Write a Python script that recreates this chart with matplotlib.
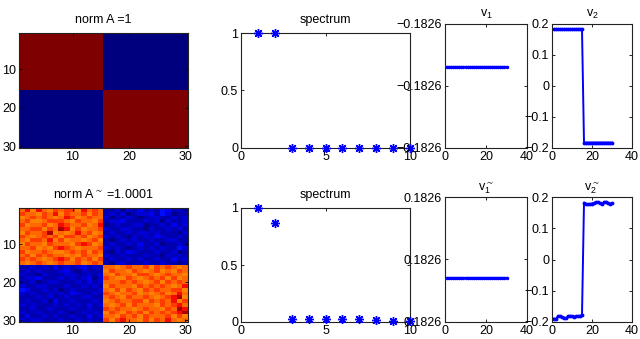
import numpy as np
import matplotlib
matplotlib.use("Agg")
import matplotlib.pyplot as plt

plt.rcParams['font.family'] = ['Liberation Sans', 'DejaVu Sans']
plt.rcParams['font.size'] = 9
plt.rcParams['mathtext.default'] = 'regular'

# ---------------- data ----------------
# ideal block matrix A (1 inside diagonal blocks, 0 elsewhere)
ideal_rows = ["1" * 15 + "0" * 15] * 15 + ["0" * 15 + "1" * 15] * 15

noisy_rows = [
    "685865767758676" + "112021312143121",
    "766576857667576" + "121201223142011",
    "567676568756766" + "201121012211212",
    "675567776576657" + "122311121202112",
    "756675687667568" + "012112201121312",
    "667757698575667" + "211221102112121",
    "576679565686756" + "121121221211102",
    "765676757767567" + "212102121321121",
    "657768575665675" + "101212112112211",
    "576657666578756" + "121121311201121",
    "667565787656667" + "212101212121142",
    "756676556767576" + "102132111211201",
    "675767665657665" + "211211121102121",
    "767656787576757" + "121121211211312",
    "656765676675676" + "102211121121101",
    "112121312123121" + "665676675767656",
    "121211123102111" + "576657656756576",
    "211021112211212" + "657665776567665",
    "122311121212302" + "765576567675756",
    "112012211121312" + "666767656757676",
    "211221112112121" + "576665767676568",
    "431121201211112" + "657576576766775",
    "212112121321121" + "765667565675686",
    "111212112112211" + "676576676567895",
    "121120311211121" + "567667757676857",
    "212111212121312" + "656757666576786",
    "112112111211211" + "767665676657698",
    "211211121012121" + "576576757676789",
    "131121211211312" + "665767576667575",
    "212211121121211" + "757866575768656",
]

level_values = {'0': 0.015, '1': 0.045, '2': 0.075, '3': 0.105, '4': 0.14,
                '5': 0.77, '6': 0.80, '7': 0.845, '8': 0.895, '9': 0.96}

spec_x = list(range(1, 11))
spec_ideal = [1, 1, 0, 0, 0, 0, 0, 0, 0, 0]
spec_noisy = [1.0, 0.866, 0.03, 0.03, 0.03, 0.028, 0.027, 0.018, 0.012, 0.006]

vec_x = list(range(1, 31))
v1_ideal = [-0.182574] * 30
v1_noisy = [0.182574] * 30
v2_ideal = [0.182574] * 15 + [-0.182574] * 15
v2_noisy = [-0.189, -0.190, -0.182, -0.180, -0.184, -0.186, -0.188, -0.181,
            -0.180, -0.182, -0.183, -0.181, -0.181, -0.180, -0.179,
            0.182, 0.178, 0.177, 0.178, 0.179, 0.181, 0.183, 0.184,
            0.180, 0.178, 0.183, 0.185, 0.182, 0.179, 0.180]

A_ideal = np.array([[float(c) for c in r] for r in ideal_rows])
A_noisy = np.array([[level_values[c] for c in r] for r in noisy_rows])

# ---------------- figure ----------------
W, H = 640, 339
fig = plt.figure(figsize=(W / 100, H / 100), dpi=100)
FS = 9


def ax_px(left, top, right, bottom):
    return fig.add_axes([left / W, 1 - bottom / H, (right - left) / W, (bottom - top) / H])


def style(ax):
    ax.tick_params(direction='in', top=True, right=True, length=2.5, width=0.6,
                   labelsize=FS, pad=2, colors='black')
    for s in ax.spines.values():
        s.set_linewidth(0.8)
        s.set_color('#222222')


def fmt(v):
    return ('%.4f' % v).replace('-', '\u2212')


def heat(ax, M, title, vmin, vmax):
    ax.imshow(M, cmap='jet', aspect='auto', interpolation='nearest',
              extent=(0.5, 30.5, 30.5, 0.5), vmin=vmin, vmax=vmax)
    ax.set_xticks([10, 20, 30])
    ax.set_yticks([10, 20, 30])
    style(ax)
    ax.set_title(title, fontsize=FS, pad=7)


def spec(ax, y, title):
    ax.plot(spec_x, y, linestyle='none', marker=(8, 2, 0), color='#0000ff',
            markersize=6.5, markeredgewidth=1.0, clip_on=False, zorder=5)
    ax.set_xlim(0, 10)
    ax.set_ylim(0, 1)
    ax.set_xticks([0, 5, 10])
    ax.set_yticks([0, 0.5, 1])
    ax.set_yticklabels(['0', '0.5', '1'])
    style(ax)
    ax.set_title(title, fontsize=FS, pad=7)


def vec1(ax, y, lo, hi, title):
    ax.plot(vec_x, y, '.-', color='#0000ff', linewidth=1.6, markersize=3)
    ax.set_xlim(0, 40)
    ax.set_ylim(lo, hi)
    ax.set_xticks([0, 20, 40])
    ax.set_yticks([lo, (lo + hi) / 2, hi])
    ax.set_yticklabels([fmt(lo), fmt((lo + hi) / 2), fmt(hi)])
    style(ax)
    ax.set_title(title, fontsize=FS, pad=5)


def vec2(ax, y, title):
    ax.plot(vec_x, y, '.-', color='#0000ff', linewidth=1.4, markersize=3.5)
    ax.set_xlim(0, 40)
    ax.set_ylim(-0.2, 0.2)
    ax.set_xticks([0, 20, 40])
    ax.set_yticks([-0.2, -0.1, 0, 0.1, 0.2])
    ax.set_yticklabels(['\u22120.2', '\u22120.1', '0', '0.1', '0.2'])
    style(ax)
    ax.set_title(title, fontsize=FS, pad=5)


# top row
heat(ax_px(19, 33, 188, 148), A_ideal, 'norm A =1', 0, 1)
spec(ax_px(241, 33, 410, 148), spec_ideal, 'spectrum')
c = v1_ideal[0]
vec1(ax_px(445, 24, 527, 148), v1_ideal, c - 0.65e-6, c + 0.35e-6, 'v$_1$')
vec2(ax_px(552, 24, 632, 148), v2_ideal, 'v$_2$')

# bottom row
heat(ax_px(19, 208, 188, 322), A_noisy, r'norm A$^{\sim}$ =1.0001', 0, 1)
spec(ax_px(241, 208, 410, 322), spec_noisy, 'spectrum')
c = v1_noisy[0]
vec1(ax_px(445, 197, 527, 322), v1_noisy, c - 0.35e-6, c + 0.65e-6, r'v$^{\sim}_1$')
vec2(ax_px(552, 197, 632, 322), v2_noisy, r'v$^{\sim}_2$')

fig.savefig('out.png', dpi=100)
